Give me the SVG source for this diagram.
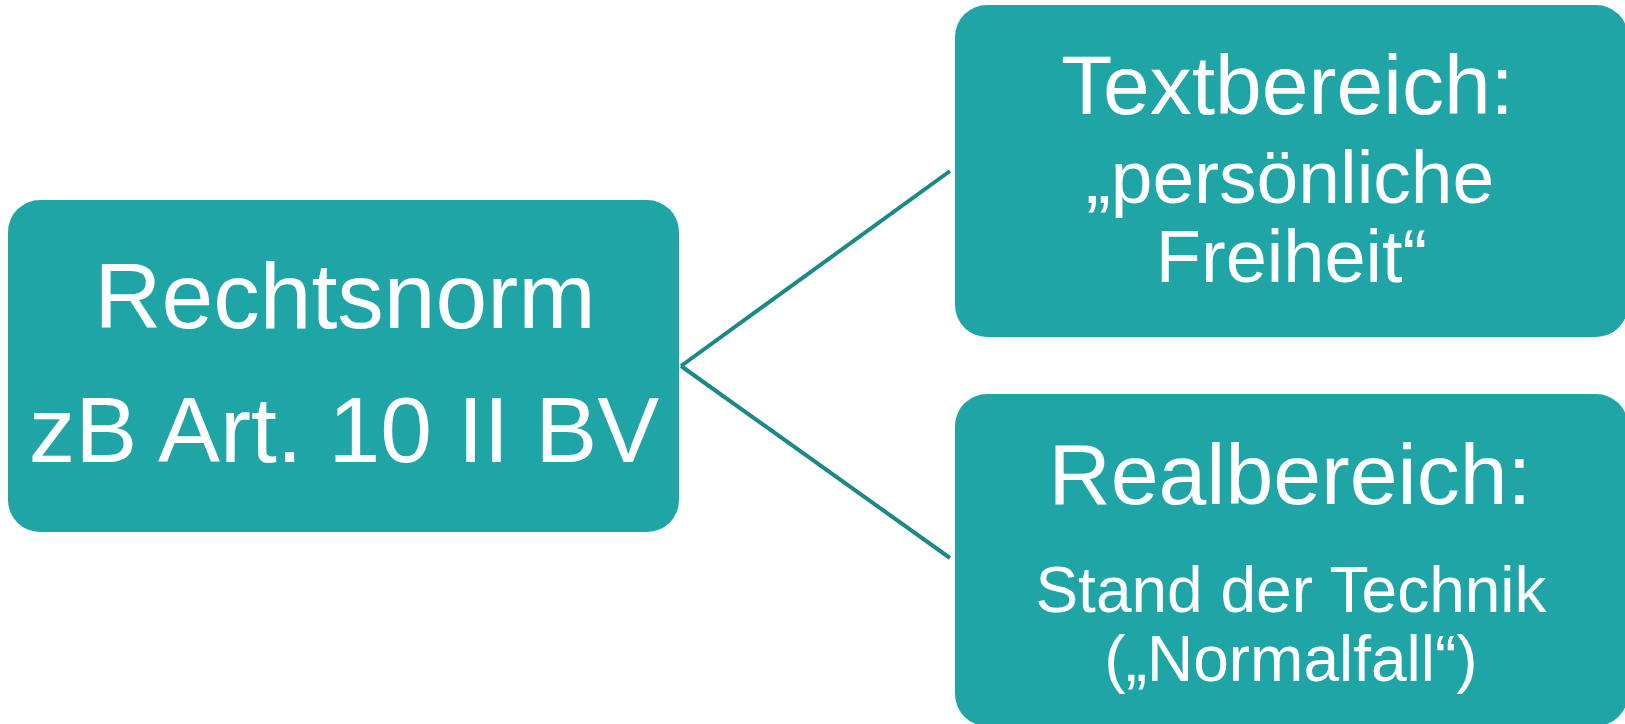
<svg xmlns="http://www.w3.org/2000/svg" width="1625" height="724" viewBox="0 0 1625 724">
<style>
.box{fill:#20A5A6;}
.t{font-family:"Liberation Sans",Arial,sans-serif;fill:#ffffff;text-anchor:middle;}
.conn{stroke:#1B8A87;stroke-width:4;fill:none;}
</style>
<rect width="1625" height="724" fill="#ffffff"/>
<g id="connectors">
<path class="conn" d="M681 366 L950 171"/>
<path class="conn" d="M681 366 L950 558"/>
</g>
<g id="node-rechtsnorm">
<rect class="box" x="8" y="200" width="671" height="332" rx="32"/>
<text class="t" x="345" y="328" font-size="93">Rechtsnorm</text>
<text class="t" x="344" y="462" font-size="93">zB Art. 10 II BV</text>
</g>
<g id="node-textbereich">
<rect class="box" x="955" y="5" width="673" height="332" rx="32"/>
<text class="t" x="1287.5" y="114" font-size="84">Textbereich:</text>
<text class="t" x="1290" y="203" font-size="75">„persönliche</text>
<text class="t" x="1291.5" y="282" font-size="74">Freiheit“</text>
</g>
<g id="node-realbereich">
<rect class="box" x="955" y="394" width="673" height="332" rx="32"/>
<text class="t" x="1290" y="504" font-size="86">Realbereich:</text>
<text class="t" x="1291" y="612" font-size="64">Stand der Technik</text>
<text class="t" x="1291" y="681" font-size="64">(„Normalfall“)</text>
</g>
</svg>
